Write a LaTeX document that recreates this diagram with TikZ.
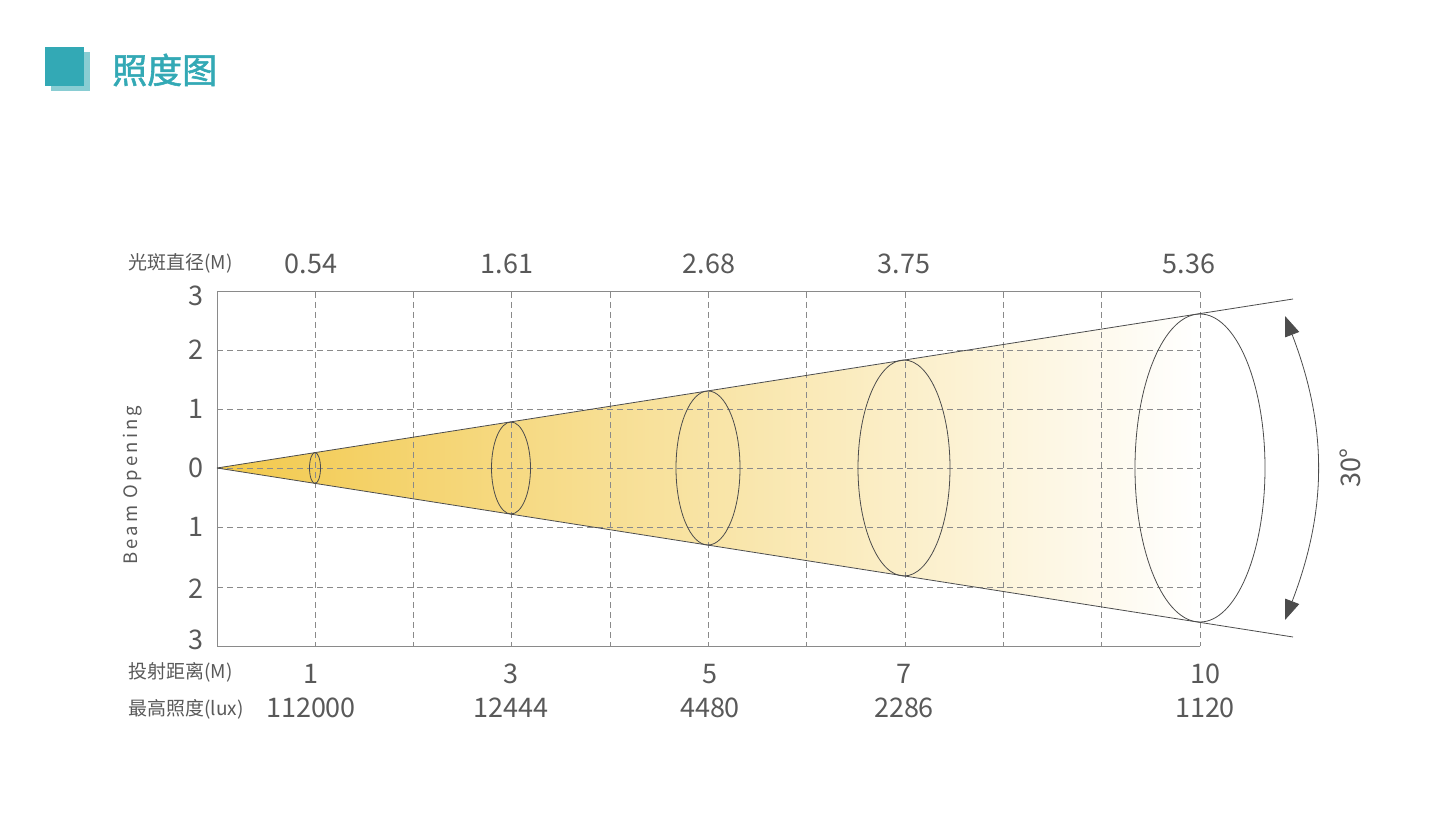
\documentclass[tikz,border=0pt]{standalone}
\usepackage{fontspec}
\setmainfont{Noto Sans CJK SC}
\newfontfamily\titlefont{Noto Sans CJK SC}[FakeBold=1.6]
\usetikzlibrary{positioning, arrows.meta, shapes.geometric}
\definecolor{tealdark}{HTML}{33A9B5}
\definecolor{teallight}{HTML}{89CDD3}
\definecolor{beamyellow}{HTML}{F2C94C}
\definecolor{beammid}{HTML}{F7E1A3}
\definecolor{gridgray}{HTML}{8A8A8A}
\definecolor{txtgray}{HTML}{595959}

\begin{document}
\begin{tikzpicture}[x=1pt,y=-1pt,node distance=35pt,on grid,
    every node/.style={text=txtgray,inner sep=0pt},
    num/.style={font=\fontsize{27}{27}\selectfont},
    lbl/.style={font=\fontsize{19}{19}\selectfont,anchor=west},
    spot/.style={draw=black!70,ellipse,line width=0.8pt},
    gridline/.style={gridgray,dash pattern=on 6pt off 4pt,line width=0.9pt},
    frameline/.style={gridgray,line width=1pt},
    cone/.style={black!70,line width=0.8pt}]
    \useasboundingbox (0,0) rectangle (1438,826);

    % title
    \fill[teallight] (51,52) rectangle (90,91);
    \fill[tealdark] (45,47) rectangle (84,86);
    \node[anchor=west,text=tealdark,font=\titlefont\fontsize{35}{35}\selectfont] (title) at (112,70) {照度图};

    % beam
    \coordinate (apex) at (217,468);
    \coordinate (topEnd) at (1293,299);
    \coordinate (botEnd) at (1293,637);
    \shade[left color=beamyellow,middle color=beammid,right color=white]
        (apex) -- (1200,314) -- (1200,622) -- cycle;

    % grid
    \foreach \y in {350,409,468,527,587}
        \draw[gridline] (217,\y) -- (1200,\y);
    \foreach \k in {1,...,10}
        \draw[gridline] (217+98.3*\k,292) -- (217+98.3*\k,646);
    \draw[frameline] (1200,292) -- (217,292) -- (217,646) -- (1200,646);

    \draw[cone] (apex) -- (topEnd);
    \draw[cone] (apex) -- (botEnd);

    % spots
    \foreach \x/\w/\h [count=\i] in {315/11/31,511/39/92,708/64/154,904/92/216,1200/130/308}
        \node[spot,minimum width=\w,minimum height=\h] (spot\i) at (\x,468) {};

    % angle
    \coordinate (arcTop) at (1285,316);
    \coordinate (arcBot) at (1285,620);
    \draw[black!70,line width=0.8pt,{Stealth[length=20pt,width=15pt,inset=0pt]}-{Stealth[length=20pt,width=15pt,inset=0pt]}]
        (arcTop) to[bend left=21] (arcBot);
    \node[num,rotate=90] (angle) at (1350,468) {30°};

    % axis
    \foreach \y/\t in {296/3,350/2,409/1,468/0,527/1,589/2,640/3}
        \node[num] at (196,\y) {\t};
    \node[rotate=90,font=\fontsize{18.5}{18.5}\selectfont\addfontfeature{LetterSpace=17}] (beamlbl) at (133,485) {Beam Opening};

    % labels
    \node[lbl] (diamlbl) at (128,263) {光斑直径(M)};
    \node[lbl] (distlbl) at (128,672) {投射距离(M)};
    \node[lbl] (luxlbl) at (128,709) {最高照度(lux)};

    \foreach \x/\d in {311/0.54,507/1.61,709/2.68,904/3.75,1189/5.36}
        \node[num] at (\x,264) {\d};
    \foreach \x/\m/\l [count=\i] in {311/1/112000,511/3/12444,710/5/4480,904/7/2286,1205/10/1120}{
        \node[num] (dist\i) at (\x,674) {\m};
        \node[num,below=34pt of dist\i] (lux\i) {\l};
    }
\end{tikzpicture}
\end{document}
